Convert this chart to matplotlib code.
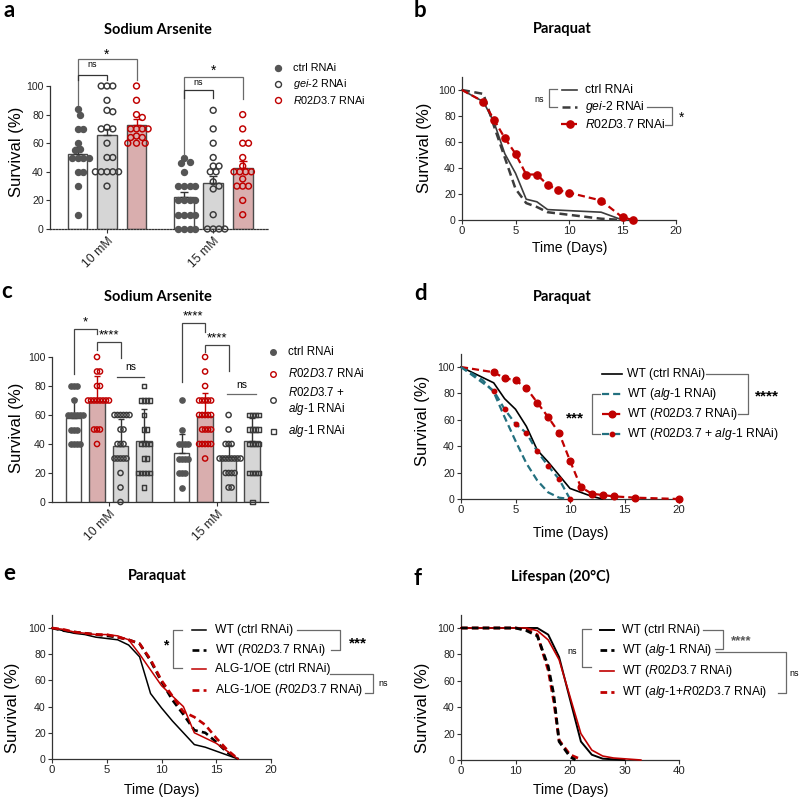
import numpy as np
import matplotlib
matplotlib.use('Agg')
import matplotlib.pyplot as plt
from matplotlib.lines import Line2D

plt.rcParams['font.family'] = ['Liberation Sans', 'DejaVu Sans']
plt.rcParams['mathtext.fontset'] = 'custom'
plt.rcParams['mathtext.rm'] = 'Liberation Sans'
plt.rcParams['mathtext.it'] = 'Liberation Sans:italic'
plt.rcParams['mathtext.bf'] = 'Liberation Sans:bold'

# ======================= DATA =======================
# Panel a : Sodium Arsenite (bars = mean, error = SEM)
a_groups = ['10 mM', '15 mM']
a_labels = ['ctrl RNAi', r'$\mathit{gei}$-$\mathit{2}$ RNAi', r'$\mathit{R02D3.7}$ RNAi']
a_mean_10 = [52.7, 65.5, 73.0]
a_mean_15 = [22.5, 32.0, 42.5]
a_err_10 = [4.3, 4.5, 4.0]
a_err_15 = [3.5, 5.0, 5.0]
a_ctrl_10 = [84, 80, 70, 70, 60, 56, 55, 50, 50, 50, 50, 40, 40, 30, 10]
a_gei2_10 = [100, 100, 100, 90, 83, 82, 71, 70, 70, 60, 50, 50, 40, 40, 40, 40, 40, 30]
a_r02_10 = [100, 90, 80, 78, 70, 70, 70, 70, 65, 64, 64, 60, 60, 60]
a_ctrl_15 = [50, 47, 46, 40, 30, 30, 30, 30, 20, 20, 20, 20, 10, 10, 10, 10, 0, 0, 0, 0]
a_gei2_15 = [83, 70, 60, 50, 44, 44, 40, 40, 33, 30, 28, 10, 0, 0, 0, 0]
a_r02_15 = [80, 70, 60, 60, 50, 44, 40, 40, 40, 40, 35, 30, 30, 30, 20, 10]

# Panel c : Sodium Arsenite (bars = mean, error = SD)
c_groups = ['10 mM', '15 mM']
c_labels = ['ctrl RNAi', r'$\mathit{R02D3.7}$ RNAi', r'$\mathit{R02D3.7}$ +', r'$\mathit{alg}$-$\mathit{1}$ RNAi']
c_mean_10 = [58.0, 69.5, 38.5, 42.0]
c_mean_15 = [33.5, 59.0, 31.0, 42.0]
c_err_10 = [13.0, 17.5, 18.5, 22.0]
c_err_15 = [13.5, 16.0, 8.0, 16.0]
c_ctrl_10 = [80, 80, 80, 70, 60, 60, 60, 60, 60, 60, 50, 50, 50, 40, 40, 40, 40]
c_r02_10 = [100, 90, 90, 80, 80, 70, 70, 70, 70, 70, 70, 70, 70, 50, 50, 50, 40]
c_comb_10 = [60, 60, 60, 60, 60, 60, 50, 50, 40, 40, 40, 30, 30, 30, 30, 30, 20, 10, 0]
c_alg1_10 = [80, 70, 70, 70, 70, 60, 50, 50, 40, 40, 40, 40, 30, 30, 20, 20, 20, 20, 20, 10]
c_ctrl_15 = [70, 50, 40, 40, 40, 40, 30, 30, 30, 30, 20, 20, 20, 10]
c_r02_15 = [100, 90, 80, 70, 70, 70, 70, 70, 60, 60, 60, 60, 60, 50, 50, 50, 50,
            40, 40, 40, 40, 40, 30]
c_comb_15 = [60, 50, 40, 40, 40, 30, 30, 30, 30, 30, 30, 30, 30, 20, 20, 20, 20, 10, 10]
c_alg1_15 = [60, 60, 60, 60, 50, 50, 50, 50, 40, 40, 40, 40, 20, 20, 20, 20, 0]

# Panel b : Paraquat
b_ctrl_days = [0, 2, 3, 4, 5, 6, 7, 8, 13, 15]
b_ctrl_surv = [100, 91, 75, 51, 36, 16, 14, 8, 6, 0]
b_gei2_days = [0, 2, 3, 4, 5, 6, 7, 8, 10, 13, 15]
b_gei2_surv = [100, 97, 72, 48, 24, 13, 10, 6, 4, 1, 0]
b_r02_days = [0, 2, 3, 4, 5, 6, 7, 8, 9, 10, 13, 15, 16]
b_r02_surv = [100, 91, 77, 63, 51, 35, 35, 27, 23, 21, 15, 2, 0]

# Panel d : Paraquat
d_ctrl_days = [0, 3, 4, 5, 6, 7, 8, 9, 10, 11, 12, 13]
d_ctrl_surv = [100, 88, 76, 68, 55, 37, 28, 18, 8, 5, 2, 0]
d_alg1_days = [0, 1, 2, 3, 4, 5, 6, 7, 8, 9, 10]
d_alg1_surv = [100, 95, 90, 81, 62, 44, 27, 14, 5, 1, 0]
d_r02_days = [0, 3, 4, 5, 6, 7, 8, 9, 10, 11, 12, 13, 14, 16, 20]
d_r02_surv = [100, 96, 91.5, 90, 84, 73, 62, 50, 29, 9, 4, 3, 2, 1, 0]
d_combo_days = [0, 3, 4, 5, 6, 7, 8, 9, 10]
d_combo_surv = [100, 82, 68, 57, 50, 36, 25, 15, 0]

# Panel e : Paraquat
e_days = [0, 1, 2, 3, 4, 5, 6, 7, 8, 9, 10, 11, 12, 13, 14, 15, 16, 17]
e_wt_ctrl = [100, 98, 96, 95, 93, 92, 91, 87, 78, 50, 39, 29, 20, 11, 9, 6, 3, 0]
e_wt_r02 = [100, 98, 97, 96, 95, 94, 93, 91, 88, 75, 59, 45, 34, 22, 20, 13, 5, 0]
e_oe_ctrl = [100, 99, 97, 96, 95, 95, 94, 91, 80, 68, 56, 48, 40, 20, 16, 12, 6, 0]
e_oe_r02 = [100, 99, 97, 96, 95, 95, 93, 91, 88, 76, 60, 48, 36, 32, 26, 16, 7, 0]

# Panel f : Lifespan (20 C)
f_ctrl_days = [0, 10, 14, 16, 18, 20, 22, 24, 26, 28, 30]
f_ctrl_surv = [100, 100, 100, 95, 78, 46, 14, 4, 1, 0.5, 0]
f_alg1_days = [0, 10, 12, 14, 16, 17, 18, 20, 21]
f_alg1_surv = [100, 100, 98, 94, 71, 50, 14, 2.5, 0]
f_r02_days = [0, 10, 12, 14, 16, 18, 20, 22, 24, 26, 28, 33]
f_r02_surv = [100, 100, 100, 98, 91, 76, 48, 20, 7.5, 3, 1.5, 0]
f_combo_days = [0, 10, 12, 14, 16, 17, 18, 20, 22]
f_combo_surv = [100, 100, 99, 95, 68, 45, 15, 4, 0.5]

# ======================= STYLE / LAYOUT =======================
W, H = 800, 802
RED = '#C00000'
TEAL = '#23707F'
DGREY = '#555555'
AXC = '#333333'
BRC = '#6A6A6A'
PINK = '#D9AEAE'
LGREY = '#D6D6D6'

fig = plt.figure(figsize=(W / 100, H / 100), dpi=100)


def add_ax(x0, x1, ytop, ybot):
    return fig.add_axes([x0 / W, 1 - ybot / H, (x1 - x0) / W, (ybot - ytop) / H])


def fline(xs, ys, **kw):
    fig.add_artist(Line2D([x / W for x in xs], [1 - y / H for y in ys],
                          transform=fig.transFigure, **kw))


def ftext(x, y, s, **kw):
    fig.text(x / W, 1 - y / H, s, **kw)


def style_axes(ax, xlim, ylim, spine_top=None, xlabsize=8.2):
    ax.set_xlim(*xlim)
    ax.set_ylim(*ylim)
    ax.patch.set_visible(False)
    for s in ['top', 'right']:
        ax.spines[s].set_visible(False)
    for s in ['left', 'bottom']:
        ax.spines[s].set_color(AXC)
        ax.spines[s].set_linewidth(0.9)
    if spine_top is not None:
        ax.spines['left'].set_bounds(0, spine_top)
    ax.set_yticks(range(0, 101, 20))
    ax.tick_params(axis='both', length=3, width=0.8,
                   color=AXC, labelcolor='#222222', pad=1.5)
    ax.tick_params(axis='y', labelsize=7.6)
    ax.tick_params(axis='x', labelsize=xlabsize)


def swarm(values, d_px, xpx, ypx):
    vals = np.asarray(values, float)
    order = np.argsort(-vals, kind='stable')
    placed = []
    xs = np.zeros(len(vals))
    cands = [0.0]
    for j in range(1, 60):
        cands += [j * d_px / 2, -j * d_px / 2]
    for i in order:
        y = vals[i] * ypx
        for c in cands:
            if all((c - px) ** 2 + (y - py) ** 2 >= (d_px * 0.999) ** 2 for px, py in placed):
                break
        placed.append((c, y))
        xs[i] = c / xpx
    return xs


def bracket_data(ax, x1, x2, ytop, yl1, yl2, color=BRC, lw=0.9):
    ax.plot([x1, x1, x2, x2], [yl1, ytop, ytop, yl2], color=color, lw=lw,
            clip_on=False, zorder=5, solid_joinstyle='miter')


def panel_letter(x, y, s):
    ftext(x, y, s, fontsize=16, fontweight='bold', family='Lato', va='baseline', ha='left')


def panel_title(x, y, s):
    ftext(x, y, s, fontsize=10.5, fontweight='bold', family='Lato', va='center', ha='center')


# ======================= PANEL a =======================
a_x0, a_x1, a_y0, a_ppu = 50, 268, 229, 1.43
a_unit, a_first = 29.5, 77.5
axa = add_ax(a_x0, a_x1, a_y0 - 130 * a_ppu, a_y0)
style_axes(axa, ((a_x0 - a_first) / a_unit, (a_x1 - a_first) / a_unit), (0, 130),
           spine_top=100, xlabsize=8.8)
axa.spines['bottom'].set_linestyle((0, (1.2, 1.2)))
a_pos_10 = np.arange(3)
a_pos_15 = np.arange(3) + 3.6
a_fc = ['white', LGREY, PINK]
a_mc = [DGREY, '#3a3a3a', RED]
a_fill = [True, False, False]
for pos, means, errs, pts in [(a_pos_10, a_mean_10, a_err_10, [a_ctrl_10, a_gei2_10, a_r02_10]),
                              (a_pos_15, a_mean_15, a_err_15, [a_ctrl_15, a_gei2_15, a_r02_15])]:
    axa.bar(pos, means, width=0.67, color=a_fc, edgecolor='#4a4a4a', linewidth=1.0, zorder=2)
    for k in range(3):
        axa.errorbar(pos[k], means[k], yerr=[[0], [errs[k]]], fmt='none',
                     ecolor=(RED if k == 2 else '#333333'), elinewidth=1.0, capsize=3,
                     capthick=1.0, zorder=3)
        xo = swarm(pts[k], 5.8, a_unit, a_ppu)
        axa.scatter(pos[k] + xo, pts[k], s=18, marker='o',
                    facecolors=(a_mc[k] if a_fill[k] else 'none'),
                    edgecolors=a_mc[k], linewidths=1.05, zorder=4, clip_on=False)
axa.set_xticks([a_pos_10.mean(), a_pos_15.mean()])
axa.set_xticklabels(a_groups, rotation=45, ha='right', va='top', rotation_mode='anchor')
# significance
bracket_data(axa, a_pos_10[0], a_pos_10[2], 118.7, 86.7, 104)
axa.text(a_pos_10[1], 122, '*', ha='center', va='center', fontsize=10, clip_on=False)
bracket_data(axa, a_pos_10[0], a_pos_10[1], 108, 104, 104, color='#333333')
axa.text(a_pos_10[0] + 0.5, 115, 'ns', ha='center', va='center', fontsize=6.5, clip_on=False)
bracket_data(axa, a_pos_15[0], a_pos_15[2], 106.5, 51.7, 91)
axa.text(a_pos_15[1], 110.5, '*', ha='center', va='center', fontsize=10, clip_on=False)
bracket_data(axa, a_pos_15[0], a_pos_15[1], 97.2, 91.6, 91.6, color='#333333')
axa.text(a_pos_15[0] + 0.5, 102.5, 'ns', ha='center', va='center', fontsize=6.5, clip_on=False)
# legend
for (yy, lab, k) in [(68, a_labels[0], 0), (84, a_labels[1], 1), (100, a_labels[2], 2)]:
    fline([278], [yy], marker='o', ms=4.3, ls='none',
          mfc=(a_mc[k] if a_fill[k] else 'none'), mec=a_mc[k], mew=1.0)
    ftext(293, yy, lab, fontsize=7.8, va='center', ha='left')
ftext(17, 152, 'Survival (%)', fontsize=12, rotation=90, ha='center', va='center')
panel_title(158, 30, 'Sodium Arsenite')
panel_letter(4, 17, 'a')

# ======================= PANEL c =======================
c_x0, c_x1, c_y0, c_ppu = 52, 268, 502, 1.45
c_unit, c_first = 23.5, 73.5
axc = add_ax(c_x0, c_x1, c_y0 - 130 * c_ppu, c_y0)
style_axes(axc, ((c_x0 - c_first) / c_unit, (c_x1 - c_first) / c_unit), (0, 130),
           spine_top=100, xlabsize=8.8)
c_pos_10 = np.arange(4)
c_pos_15 = np.arange(4) + 4.6
c_fc = ['white', PINK, LGREY, LGREY]
c_mc = [DGREY, RED, '#3a3a3a', '#3a3a3a']
c_mk = ['o', 'o', 'o', 's']
c_fill = [True, False, False, False]
for pos, means, errs, pts in [(c_pos_10, c_mean_10, c_err_10, [c_ctrl_10, c_r02_10, c_comb_10, c_alg1_10]),
                              (c_pos_15, c_mean_15, c_err_15, [c_ctrl_15, c_r02_15, c_comb_15, c_alg1_15])]:
    axc.bar(pos, means, width=0.66, color=c_fc, edgecolor='#4a4a4a', linewidth=1.0, zorder=2)
    for k in range(4):
        axc.errorbar(pos[k], means[k], yerr=[[0], [errs[k]]], fmt='none',
                     ecolor=(RED if k == 1 else '#333333'), elinewidth=1.0, capsize=2.5,
                     capthick=1.0, zorder=3)
        xo = swarm(pts[k], 3.0, c_unit, c_ppu)
        axc.scatter(pos[k] + xo, pts[k], s=(12 if c_mk[k] == 's' else 14), marker=c_mk[k],
                    facecolors=(c_mc[k] if c_fill[k] else 'none'),
                    edgecolors=c_mc[k], linewidths=1.05, zorder=4, clip_on=False)
axc.set_xticks([c_pos_10.mean(), c_pos_15.mean()])
axc.set_xticklabels(c_groups, rotation=45, ha='right', va='top', rotation_mode='anchor')
# significance
bracket_data(axc, c_pos_10[0], c_pos_10[1], 119, 88, 116, color='#444444')
axc.text(0.5 * (c_pos_10[0] + c_pos_10[1]), 124, '*', ha='center', va='center', fontsize=9.5, clip_on=False)
bracket_data(axc, c_pos_10[1], c_pos_10[2], 110, 104.6, 99.6, color='#444444')
axc.text(0.5 * (c_pos_10[1] + c_pos_10[2]), 115, '****', ha='center', va='center', fontsize=9.5, clip_on=False)
axc.plot([c_pos_10[2] - 0.15, c_pos_10[3]], [86.4, 86.4], color='#444444', lw=0.9, clip_on=False)
axc.text(0.5 * (c_pos_10[2] + c_pos_10[3]) - 0.05, 93, 'ns', ha='center', va='center', fontsize=7.5, clip_on=False)
bracket_data(axc, c_pos_15[0], c_pos_15[1], 123.4, 83, 117, color='#444444')
axc.text(0.5 * (c_pos_15[0] + c_pos_15[1]), 128, '****', ha='center', va='center', fontsize=9.5, clip_on=False)
bracket_data(axc, c_pos_15[1], c_pos_15[2], 108, 103.7, 90, color='#444444')
axc.text(0.5 * (c_pos_15[1] + c_pos_15[2]), 113, '****', ha='center', va='center', fontsize=9.5, clip_on=False)
axc.plot([c_pos_15[2] - 0.05, c_pos_15[3] + 0.15], [74.5, 74.5], color=BRC, lw=0.9, clip_on=False)
axc.text(0.5 * (c_pos_15[2] + c_pos_15[3]) + 0.05, 81, 'ns', ha='center', va='center', fontsize=7.5, clip_on=False)
# legend
for (yy, k) in [(352, 0), (374, 1), (400, 2), (431, 3)]:
    fline([273], [yy], marker=c_mk[k], ms=(4.0 if c_mk[k] == 'o' else 3.6), ls='none',
          mfc=(c_mc[k] if c_fill[k] else 'none'), mec=c_mc[k], mew=1.0)
ftext(288, 352, c_labels[0], fontsize=8.3, va='center', ha='left')
ftext(288, 374, c_labels[1], fontsize=8.3, va='center', ha='left')
ftext(288, 393, c_labels[2], fontsize=8.3, va='center', ha='left')
ftext(288, 409, c_labels[3], fontsize=8.3, va='center', ha='left')
ftext(288, 431, c_labels[3], fontsize=8.3, va='center', ha='left')
ftext(17, 428, 'Survival (%)', fontsize=12, rotation=90, ha='center', va='center')
panel_title(158, 297, 'Sodium Arsenite')
panel_letter(1, 298, 'c')

# ======================= PANEL b =======================
axb = add_ax(462, 676, 220 - 110 * 1.3, 220)
style_axes(axb, (0, 20), (0, 110))
axb.set_xticks([0, 5, 10, 15, 20])
axb.plot(b_ctrl_days, b_ctrl_surv, color='#3c3c3c', lw=1.2, clip_on=False, zorder=3)
axb.plot(b_gei2_days, b_gei2_surv, color='#3c3c3c', lw=1.8, ls=(0, (3.2, 1.8)), clip_on=False, zorder=3)
axb.plot(b_r02_days, b_r02_surv, color=RED, lw=1.6, ls=(0, (3.2, 1.8)), marker='o', ms=5.2,
         markevery=list(range(1, len(b_r02_days))), clip_on=False, zorder=4)
fline([562, 577], [90, 90], color='#3c3c3c', lw=1.2)
fline([562, 577], [107, 107], color='#3c3c3c', lw=1.8, ls=(0, (3.2, 1.8)))
fline([561, 578], [124, 124], color=RED, lw=1.6, ls=(0, (2.8, 1.6)))
fline([569.5], [124], color=RED, marker='o', ms=5.2, ls='none')
ftext(585, 90, 'ctrl RNAi', fontsize=8.7, va='center')
ftext(585, 107, r'$\mathit{gei}$-$\mathit{2}$ RNAi', fontsize=8.7, va='center')
ftext(585, 124, r'$\mathit{R02D3.7}$ RNAi', fontsize=8.7, va='center')
fline([557, 549, 549, 557], [89, 89, 107, 107], color=BRC, lw=0.9)
ftext(539, 99, 'ns', fontsize=6.5, ha='center', va='center')
fline([647, 672, 672, 665], [107, 107, 125, 125], color=BRC, lw=0.9)
ftext(682, 118, '*', fontsize=10, ha='center', va='center')
ftext(425, 148, 'Survival (%)', fontsize=12, rotation=90, ha='center', va='center')
ftext(570, 248, 'Time (Days)', fontsize=10, ha='center', va='center')
panel_title(562, 29, 'Paraquat')
panel_letter(414, 17, 'b')

# ======================= PANEL d =======================
axd = add_ax(461, 679, 499 - 110 * 1.32, 499)
style_axes(axd, (0, 20), (0, 110))
axd.set_xticks([0, 5, 10, 15, 20])
axd.plot(d_ctrl_days, d_ctrl_surv, color='black', lw=1.2, clip_on=False, zorder=3)
axd.plot(d_alg1_days, d_alg1_surv, color=TEAL, lw=1.6, ls=(0, (3.2, 1.8)), clip_on=False, zorder=3)
axd.plot(d_r02_days, d_r02_surv, color=RED, lw=1.6, ls=(0, (3.2, 1.8)), marker='o', ms=4.8,
         markevery=list(range(1, len(d_r02_days))), clip_on=False, zorder=4)
axd.plot(d_combo_days, d_combo_surv, color=TEAL, lw=1.6, ls=(0, (3.2, 1.8)), marker='o', ms=3.2,
         mfc=RED, mec=RED, markevery=list(range(1, len(d_combo_days))), clip_on=False, zorder=4)
d_rows = [374, 394, 414, 434]
fline([602, 622], [d_rows[0]] * 2, color='black', lw=1.2)
fline([602, 622], [d_rows[1]] * 2, color=TEAL, lw=1.6, ls=(0, (3.2, 1.8)))
fline([602, 622], [d_rows[2]] * 2, color=RED, lw=1.6, ls=(0, (3.2, 1.8)))
fline([612], [d_rows[2]], color=RED, marker='o', ms=4.8, ls='none')
fline([602, 622], [d_rows[3]] * 2, color=TEAL, lw=1.6, ls=(0, (3.2, 1.8)))
fline([612], [d_rows[3]], color=RED, marker='o', ms=3.2, ls='none')
ftext(627, d_rows[0], 'WT (ctrl RNAi)', fontsize=8.7, va='center')
ftext(627, d_rows[1], r'WT ($\mathit{alg}$-$\mathit{1}$ RNAi)', fontsize=8.7, va='center')
ftext(627, d_rows[2], r'WT ($\mathit{R02D3.7}$ RNAi)', fontsize=8.7, va='center')
ftext(627, d_rows[3], r'WT ($\mathit{R02D3.7}$ + $\mathit{alg}$-$\mathit{1}$ RNAi)', fontsize=8.7, va='center')
fline([706, 748, 748, 738], [d_rows[0], d_rows[0], d_rows[2], d_rows[2]], color=BRC, lw=0.9)
ftext(767, 396, '****', fontsize=11, fontweight='bold', ha='center', va='center')
fline([600, 592, 592, 600], [d_rows[1], d_rows[1], d_rows[3], d_rows[3]], color=BRC, lw=0.9)
ftext(575, 418, '***', fontsize=11, fontweight='bold', ha='center', va='center')
ftext(422, 421, 'Survival (%)', fontsize=12, rotation=90, ha='center', va='center')
ftext(571, 533, 'Time (Days)', fontsize=10, ha='center', va='center')
panel_title(562, 297, 'Paraquat')
panel_letter(414, 300, 'd')

# ======================= PANEL e =======================
axe = add_ax(52, 271, 759 - 110 * 1.31, 759)
style_axes(axe, (0, 20), (0, 110))
axe.set_xticks([0, 5, 10, 15, 20])
axe.plot(e_days, e_wt_ctrl, color='black', lw=1.1, clip_on=False, zorder=3)
axe.plot(e_days, e_wt_r02, color='black', lw=1.9, ls=(0, (2.6, 1.6)), clip_on=False, zorder=3)
axe.plot(e_days, e_oe_ctrl, color=RED, lw=1.1, clip_on=False, zorder=3)
axe.plot(e_days, e_oe_r02, color=RED, lw=1.9, ls=(0, (2.6, 1.6)), clip_on=False, zorder=3)
e_rows = [630, 649.5, 669, 690]
fline([192, 206], [e_rows[0]] * 2, color='black', lw=1.1)
fline([192, 206], [e_rows[1]] * 2, color='black', lw=1.9, ls=(0, (2.6, 1.6)))
fline([192, 206], [e_rows[2]] * 2, color=RED, lw=1.1)
fline([192, 206], [e_rows[3]] * 2, color=RED, lw=1.9, ls=(0, (2.6, 1.6)))
ftext(215, e_rows[0], 'WT (ctrl RNAi)', fontsize=8.7, va='center')
ftext(215, e_rows[1], r'WT ($\mathit{R02D3.7}$ RNAi)', fontsize=8.7, va='center')
ftext(215, e_rows[2], 'ALG-1/OE (ctrl RNAi)', fontsize=8.7, va='center')
ftext(215, e_rows[3], r'ALG-1/OE ($\mathit{R02D3.7}$ RNAi)', fontsize=8.7, va='center')
fline([182, 173, 173, 182], [e_rows[0], e_rows[0], e_rows[2] - 1, e_rows[2] - 1], color=BRC, lw=0.9)
ftext(166, 645, '*', fontsize=10, fontweight='bold', ha='center', va='center')
fline([297, 340, 340, 331], [e_rows[0], e_rows[0], e_rows[1], e_rows[1]], color=BRC, lw=0.9)
ftext(358, 643, '***', fontsize=11, fontweight='bold', ha='center', va='center')
fline([330, 373, 373, 365], [e_rows[2] + 5, e_rows[2] + 5, e_rows[3] + 3, e_rows[3] + 3], color=BRC, lw=0.9)
ftext(378, 683, 'ns', fontsize=6.5, ha='left', va='center')
ftext(13, 708, 'Survival (%)', fontsize=12, rotation=90, ha='center', va='center')
ftext(162, 790, 'Time (Days)', fontsize=10, ha='center', va='center')
panel_title(157, 576, 'Paraquat')
panel_letter(3, 580, 'e')

# ======================= PANEL f =======================
axf = add_ax(461, 679, 760 - 110 * 1.32, 760)
style_axes(axf, (0, 40), (0, 110))
axf.set_xticks([0, 10, 20, 30, 40])
axf.plot(f_ctrl_days, f_ctrl_surv, color='black', lw=1.4, clip_on=False, zorder=3)
axf.plot(f_r02_days, f_r02_surv, color=RED, lw=1.2, clip_on=False, zorder=3)
axf.plot(f_combo_days, f_combo_surv, color=RED, lw=2.0, ls=(0, (2.4, 1.5)), clip_on=False, zorder=3)
axf.plot(f_alg1_days, f_alg1_surv, color='black', lw=2.0, ls=(0, (2.4, 1.5)), clip_on=False, zorder=3)
f_rows = [630, 650, 671, 692]
fline([600, 614], [f_rows[0]] * 2, color='black', lw=1.4)
fline([600, 614], [f_rows[1]] * 2, color='black', lw=2.0, ls=(0, (2.4, 1.5)))
fline([600, 614], [f_rows[2]] * 2, color=RED, lw=1.2)
fline([600, 614], [f_rows[3]] * 2, color=RED, lw=2.0, ls=(0, (2.4, 1.5)))
ftext(622, f_rows[0], 'WT (ctrl RNAi)', fontsize=8.7, va='center')
ftext(622, f_rows[1], r'WT ($\mathit{alg}$-$\mathit{1}$ RNAi)', fontsize=8.7, va='center')
ftext(622, f_rows[2], r'WT ($\mathit{R02D3.7}$ RNAi)', fontsize=8.7, va='center')
ftext(622, f_rows[3], r'WT ($\mathit{alg}$-$\mathit{1}$+$\mathit{R02D3.7}$ RNAi)', fontsize=8.7, va='center')
fline([591, 582, 582, 591], [f_rows[0] - 1, f_rows[0] - 1, f_rows[2] - 4, f_rows[2] - 4], color=BRC, lw=0.9)
ftext(572, 651, 'ns', fontsize=6.5, ha='center', va='center')
fline([703, 723, 723, 715], [f_rows[0], f_rows[0], f_rows[1] - 1, f_rows[1] - 1], color=BRC, lw=0.9)
ftext(741, 641, '****', fontsize=9.5, fontweight='bold', ha='center', va='center', color='#555555')
fline([716, 786, 786, 778], [f_rows[1] + 2, f_rows[1] + 2, f_rows[3] + 1, f_rows[3] + 1], color=BRC, lw=0.9)
ftext(789, 674, 'ns', fontsize=6.5, ha='left', va='center')
ftext(422, 708, 'Survival (%)', fontsize=12, rotation=90, ha='center', va='center')
ftext(571, 790, 'Time (Days)', fontsize=10, ha='center', va='center')
panel_title(560, 576, 'Lifespan (20°C)')
panel_letter(414, 585, 'f')

fig.savefig('out.png', dpi=100)
